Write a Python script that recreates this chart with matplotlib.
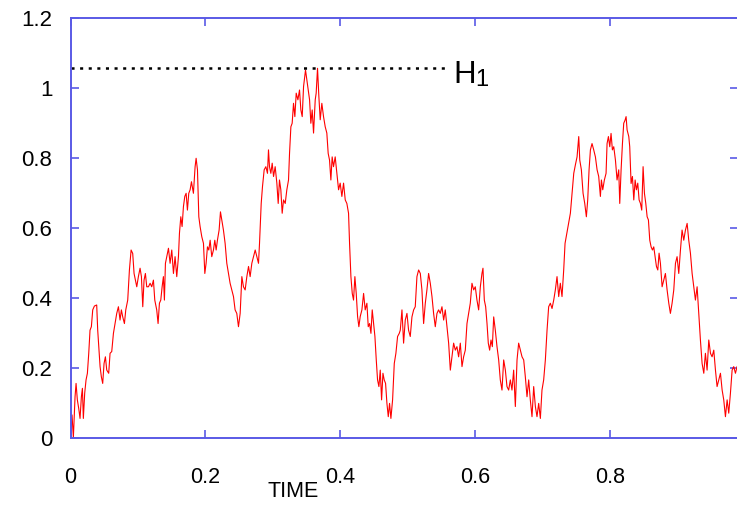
import matplotlib
matplotlib.use("Agg")
import matplotlib.pyplot as plt

plt.rcParams['font.family'] = ['Liberation Sans', 'DejaVu Sans']
plt.rcParams['lines.scale_dashes'] = False

t = [0.0, 0.0022, 0.0042, 0.0067, 0.0082, 0.0101, 0.0121, 0.0141, 0.0161, 0.0176,
     0.019, 0.021, 0.023, 0.025, 0.027, 0.0289, 0.0309, 0.0329, 0.0354, 0.0388,
     0.0403, 0.0423, 0.0438, 0.0457, 0.0477, 0.0497, 0.0517, 0.0537, 0.0566, 0.0586,
     0.0611, 0.0636, 0.066, 0.0685, 0.071, 0.0734, 0.0754, 0.0774, 0.0799, 0.0819,
     0.0848, 0.0873, 0.0898, 0.0922, 0.0942, 0.0962, 0.0982, 0.1006, 0.1031, 0.1051,
     0.1071, 0.109, 0.111, 0.113, 0.1155, 0.118, 0.1204, 0.1229, 0.1249, 0.1278,
     0.1298, 0.1318, 0.1338, 0.1358, 0.1377, 0.1392, 0.1407, 0.1427, 0.1452, 0.1476,
     0.1501, 0.1526, 0.155, 0.1575, 0.16, 0.1615, 0.1635, 0.1654, 0.1674, 0.1694,
     0.1714, 0.1733, 0.1753, 0.1773, 0.1793, 0.1822, 0.1847, 0.1862, 0.1882, 0.1902,
     0.1921, 0.1946, 0.1971, 0.1991, 0.201, 0.203, 0.205, 0.207, 0.2094, 0.2119,
     0.2139, 0.2159, 0.2178, 0.2203, 0.2223, 0.2243, 0.2267, 0.2292, 0.2317,
     0.2366, 0.2391, 0.2416, 0.244, 0.2465, 0.249, 0.2515, 0.254, 0.2564, 0.2589,
     0.2614, 0.2639, 0.2663, 0.2688, 0.2713, 0.2738, 0.2762, 0.2787, 0.2802, 0.2812,
     0.2827, 0.2846, 0.2871, 0.2896, 0.292, 0.2935, 0.295, 0.297, 0.299, 0.301,
     0.3034, 0.3059, 0.3079, 0.3098, 0.3118, 0.3138, 0.3158, 0.3183, 0.3207, 0.3232,
     0.3247, 0.3267, 0.3286, 0.3306, 0.3326, 0.3346, 0.3371, 0.3395, 0.3415, 0.3435,
     0.3455, 0.3484, 0.3504, 0.3524, 0.3544, 0.3563, 0.3583, 0.3603, 0.3628, 0.3642,
     0.3662, 0.3682, 0.3702, 0.3726, 0.3751, 0.3776, 0.38, 0.382, 0.384, 0.386,
     0.3879, 0.3899, 0.3924, 0.3949, 0.3974, 0.3998, 0.4023, 0.4048, 0.4073, 0.4097,
     0.4122, 0.4137, 0.4157, 0.4177, 0.4196, 0.4216, 0.4236, 0.4256, 0.4275, 0.4295,
     0.432, 0.4345, 0.4369, 0.4394, 0.4414, 0.4434, 0.4454, 0.4473, 0.4493, 0.4513,
     0.4533, 0.4552, 0.4572, 0.4592, 0.4612, 0.4632, 0.4651, 0.4671, 0.4691, 0.4711,
     0.473, 0.475, 0.4775, 0.48, 0.4824, 0.4849, 0.4874,
     0.4889, 0.4914, 0.4938, 0.4963, 0.4988, 0.5012, 0.5037, 0.5062, 0.5087, 0.5111,
     0.5136, 0.5161, 0.5186, 0.521, 0.5235, 0.526, 0.5284, 0.5309, 0.5334, 0.5359,
     0.5383, 0.5408, 0.5433, 0.5457, 0.5482, 0.5507, 0.5532, 0.5556, 0.5581, 0.5606,
     0.5631, 0.5655, 0.568, 0.5705, 0.5729, 0.5754, 0.5779, 0.5804, 0.5828, 0.5853,
     0.5878, 0.5903, 0.5927, 0.5952, 0.5977, 0.6001, 0.6026, 0.6051, 0.6076, 0.61,
     0.6115, 0.6135, 0.6155, 0.6175, 0.6194, 0.6214, 0.6234, 0.6254, 0.6274,
     0.6298, 0.6323, 0.6348, 0.6372, 0.6397, 0.6422, 0.6447, 0.6471, 0.6496, 0.6521,
     0.6545, 0.657, 0.6595, 0.662, 0.6644, 0.6669, 0.6694, 0.6719, 0.6743, 0.6768,
     0.6793, 0.6817, 0.6842, 0.6867, 0.6892, 0.6916, 0.6941, 0.6966, 0.699, 0.7015,
     0.704, 0.7065, 0.7089, 0.7114, 0.7139, 0.7164, 0.7188, 0.7213, 0.7238, 0.7262,
     0.7287, 0.7312, 0.7332,
     0.7411, 0.7436, 0.7461, 0.7485, 0.751, 0.7535, 0.755, 0.7574, 0.7599, 0.7624,
     0.7648, 0.7668, 0.7688, 0.7708, 0.7732, 0.7757, 0.7782, 0.7807, 0.7831, 0.7856,
     0.7871, 0.7891, 0.7915, 0.794, 0.7955, 0.7975, 0.7995, 0.8014, 0.8034, 0.8054,
     0.8079, 0.8103, 0.8128, 0.8143, 0.8163, 0.8183, 0.8202, 0.8222, 0.8237, 0.8252,
     0.8277, 0.8291, 0.8311, 0.8331, 0.8351, 0.8371, 0.839, 0.841, 0.843, 0.845,
     0.8469, 0.8489, 0.8509, 0.8529, 0.8549, 0.8568, 0.8588, 0.8608, 0.8628, 0.8647,
     0.8667, 0.8687, 0.8707, 0.8726, 0.8746, 0.8771, 0.8795, 0.882, 0.8845, 0.887,
     0.8894, 0.8919, 0.8944, 0.8969, 0.8993, 0.9018, 0.9043, 0.9067, 0.9092, 0.9117,
     0.9142, 0.9166, 0.9191, 0.9216, 0.924, 0.9265, 0.929, 0.9315, 0.9339, 0.9364,
     0.9389, 0.9413, 0.9438, 0.9463, 0.9488, 0.9512, 0.9537, 0.9562, 0.9586, 0.9611,
     0.9636, 0.9661, 0.9685, 0.971, 0.9735, 0.9759, 0.9784, 0.9809, 0.9833, 0.9858,
     0.9883]

w = [0.0, 0.065, 0.0, 0.117, 0.155, 0.108, 0.084, 0.055, 0.117, 0.141,
     0.055, 0.127, 0.165, 0.184, 0.241, 0.307, 0.317, 0.365, 0.376, 0.379,
     0.307, 0.25, 0.203, 0.174, 0.155, 0.212, 0.231, 0.193, 0.184, 0.241,
     0.246, 0.298, 0.326, 0.355, 0.374, 0.336, 0.365, 0.345, 0.326, 0.365,
     0.393, 0.479, 0.536, 0.526, 0.469, 0.45, 0.431, 0.46, 0.484, 0.46,
     0.374, 0.45, 0.469, 0.431, 0.431, 0.441, 0.431, 0.45, 0.393, 0.365,
     0.326, 0.384, 0.393, 0.431, 0.46, 0.393, 0.498, 0.517, 0.541, 0.498,
     0.536, 0.469, 0.517, 0.46, 0.517, 0.584, 0.631, 0.603, 0.66, 0.689,
     0.698, 0.65, 0.698, 0.708, 0.731, 0.698, 0.774, 0.798, 0.765, 0.631,
     0.603, 0.574, 0.555, 0.469, 0.498, 0.545, 0.536, 0.564, 0.517, 0.536,
     0.564, 0.536, 0.564, 0.593, 0.645, 0.622, 0.593, 0.555, 0.498,
     0.441, 0.422, 0.403, 0.365, 0.355, 0.317, 0.355, 0.46, 0.431, 0.422,
     0.46, 0.489, 0.46, 0.498, 0.517, 0.536, 0.517, 0.498, 0.555, 0.603,
     0.669, 0.717, 0.765, 0.774, 0.755, 0.822, 0.774, 0.755, 0.784, 0.746,
     0.774, 0.727, 0.669, 0.736, 0.708, 0.641, 0.679, 0.669, 0.708, 0.736,
     0.812, 0.888, 0.898, 0.955, 0.917, 0.984, 0.965, 0.993, 0.936, 0.917,
     1.003, 1.05, 1.022, 0.993, 0.965, 0.898, 0.936, 0.87, 0.965, 0.984,
     1.055, 0.974, 0.908, 0.955, 0.917, 0.888, 0.87, 0.812, 0.793, 0.736,
     0.802, 0.774, 0.802, 0.755, 0.708, 0.727, 0.689, 0.727, 0.679, 0.669,
     0.641, 0.555, 0.46, 0.412, 0.393, 0.46, 0.412, 0.346, 0.317, 0.346,
     0.365, 0.412, 0.365, 0.384, 0.317, 0.326, 0.298, 0.365, 0.326, 0.289,
     0.222, 0.165, 0.146, 0.193, 0.108, 0.184, 0.165, 0.155, 0.098, 0.06,
     0.098, 0.055, 0.108, 0.212, 0.241, 0.289, 0.298,
     0.307, 0.365, 0.27, 0.336, 0.355, 0.307, 0.289, 0.345, 0.365, 0.374,
     0.46, 0.479, 0.469, 0.422, 0.326, 0.384, 0.422, 0.469, 0.441, 0.403,
     0.355, 0.317, 0.355, 0.365, 0.355, 0.374, 0.336, 0.365, 0.317, 0.27,
     0.193, 0.231, 0.27, 0.25, 0.26, 0.231, 0.27, 0.203, 0.231, 0.25,
     0.326, 0.355, 0.384, 0.441, 0.422, 0.431, 0.393, 0.365, 0.431, 0.469,
     0.484, 0.393, 0.374, 0.326, 0.27, 0.25, 0.279, 0.26, 0.345,
     0.307, 0.26, 0.222, 0.165, 0.136, 0.222, 0.193, 0.146, 0.136, 0.165,
     0.136, 0.193, 0.089, 0.222, 0.27, 0.25, 0.231, 0.222, 0.174, 0.117,
     0.165, 0.108, 0.06, 0.146, 0.089, 0.06, 0.098, 0.055, 0.136, 0.165,
     0.222, 0.307, 0.374, 0.384, 0.369, 0.393, 0.422, 0.46, 0.403, 0.441,
     0.403, 0.479, 0.555,
     0.641, 0.698, 0.755, 0.779, 0.802, 0.86, 0.793, 0.765, 0.698, 0.669,
     0.631, 0.679, 0.765, 0.822, 0.84, 0.822, 0.802, 0.765, 0.746, 0.689,
     0.736, 0.708, 0.736, 0.755, 0.84, 0.86, 0.831, 0.869, 0.822, 0.831,
     0.793, 0.736, 0.765, 0.669, 0.765, 0.84, 0.898, 0.907, 0.917, 0.879,
     0.86, 0.831, 0.726, 0.746, 0.679, 0.736, 0.708, 0.727, 0.679, 0.669,
     0.65, 0.774, 0.698, 0.669, 0.631, 0.622, 0.564, 0.545, 0.536, 0.545,
     0.517, 0.489, 0.479, 0.527, 0.498, 0.431, 0.45, 0.469, 0.422, 0.384,
     0.355, 0.384, 0.422, 0.498, 0.517, 0.469, 0.536, 0.593, 0.564, 0.593,
     0.612, 0.564, 0.527, 0.469, 0.431, 0.393, 0.431, 0.355, 0.279, 0.212,
     0.184, 0.241, 0.193, 0.279, 0.241, 0.231, 0.25, 0.193, 0.146, 0.165,
     0.184, 0.136, 0.108, 0.06, 0.108, 0.07, 0.127, 0.193, 0.203, 0.184,
     0.203]

level_h1 = 1.055
level_end = 0.556
xticks = [0, 0.2, 0.4, 0.6, 0.8]
xlabels = ['0', '0.2', '0.4', '0.6', '0.8']
yticks = [0, 0.2, 0.4, 0.6, 0.8, 1.0, 1.2]
ylabels = ['0', '0.2', '0.4', '0.6', '0.8', '1', '1.2']

blue = '#5a5ae6'

fig = plt.figure(figsize=(7.37, 5.05), dpi=100)
ax = fig.add_axes([0.0957, 0.1333, 0.906, 0.832])

ax.plot(t, w, color='#ff0000', lw=0.8)
ax.plot([0, level_end], [level_h1, level_h1], color='black', lw=1.8,
        linestyle=(0, (2.2, 4.0)), dash_capstyle='butt')
# H with its subscript, drawn as two texts
ax.text(0.5675, 1.012, 'H', fontsize=22.5, va='baseline', ha='left')
ax.text(0.6005, 1.005, '1', fontsize=17, va='baseline', ha='left')

ax.set_xlim(0, 0.99)
ax.set_ylim(0, 1.2)
ax.set_xticks(xticks)
ax.set_xticklabels(xlabels, fontsize=15.5)
ax.set_yticks(yticks)
ax.set_yticklabels(ylabels, fontsize=16)

ax.tick_params(axis='both', which='both', direction='in', length=6, width=1.2,
               color=blue, top=True, right=True)
ax.tick_params(axis='x', pad=21)
ax.tick_params(axis='y', pad=13)
for s in ax.spines.values():
    s.set_color(blue)
    s.set_linewidth(1.4)

fig.text(293 / 737, 3 / 505, 'TIME', fontsize=15.5, ha='center', va='bottom')

fig.savefig('out.png', dpi=100)
